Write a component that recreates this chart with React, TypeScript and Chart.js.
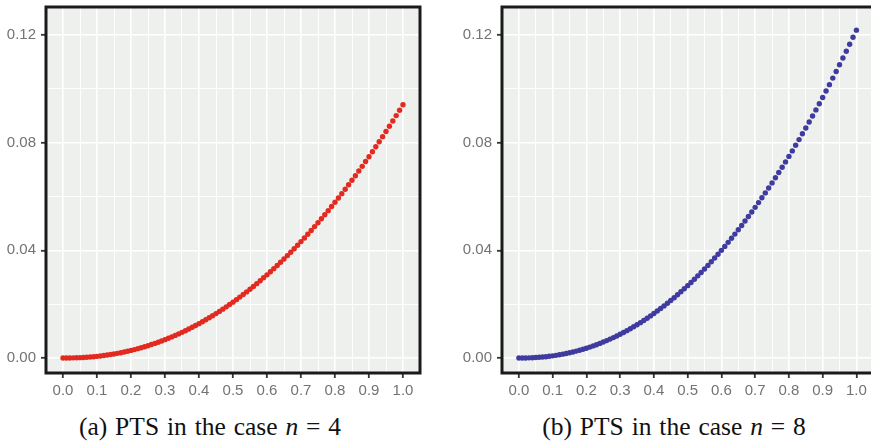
import React, { useEffect, useRef } from "react";
import { Chart, registerables } from "chart.js";

Chart.register(...registerables);

const xValues = [
  0, 0.01, 0.02, 0.03, 0.04, 0.05, 0.06, 0.07, 0.08, 0.09,
  0.1, 0.11, 0.12, 0.13, 0.14, 0.15, 0.16, 0.17, 0.18, 0.19,
  0.2, 0.21, 0.22, 0.23, 0.24, 0.25, 0.26, 0.27, 0.28, 0.29,
  0.3, 0.31, 0.32, 0.33, 0.34, 0.35, 0.36, 0.37, 0.38, 0.39,
  0.4, 0.41, 0.42, 0.43, 0.44, 0.45, 0.46, 0.47, 0.48, 0.49,
  0.5, 0.51, 0.52, 0.53, 0.54, 0.55, 0.56, 0.57, 0.58, 0.59,
  0.6, 0.61, 0.62, 0.63, 0.64, 0.65, 0.66, 0.67, 0.68, 0.69,
  0.7, 0.71, 0.72, 0.73, 0.74, 0.75, 0.76, 0.77, 0.78, 0.79,
  0.8, 0.81, 0.82, 0.83, 0.84, 0.85, 0.86, 0.87, 0.88, 0.89,
  0.9, 0.91, 0.92, 0.93, 0.94, 0.95, 0.96, 0.97, 0.98, 0.99,
  1.0,
];

const ptsN4 = [
  0, 0.0, 0.00002, 0.00005, 0.00008, 0.00014, 0.0002, 0.00029, 0.00038, 0.00049,
  0.00062, 0.00077, 0.00093, 0.0011, 0.00129, 0.0015, 0.00173, 0.00198, 0.00224, 0.00252,
  0.00282, 0.00313, 0.00347, 0.00382, 0.00419, 0.00458, 0.00499, 0.00542, 0.00587, 0.00633,
  0.00682, 0.00732, 0.00785, 0.00839, 0.00896, 0.00954, 0.01015, 0.01077, 0.01142, 0.01208,
  0.01277, 0.01347, 0.0142, 0.01495, 0.01572, 0.0165, 0.01731, 0.01815, 0.019, 0.01987,
  0.02076, 0.02168, 0.02262, 0.02358, 0.02456, 0.02556, 0.02659, 0.02763, 0.0287, 0.02979,
  0.0309, 0.03203, 0.03319, 0.03437, 0.03557, 0.03679, 0.03804, 0.03931, 0.0406, 0.04191,
  0.04324, 0.0446, 0.04598, 0.04738, 0.04881, 0.05026, 0.05173, 0.05323, 0.05475, 0.05629,
  0.05786, 0.05944, 0.06105, 0.06269, 0.06434, 0.06603, 0.06773, 0.06946, 0.07121, 0.07299,
  0.07479, 0.07661, 0.07846, 0.08033, 0.08223, 0.08415, 0.08609, 0.08805, 0.09005, 0.09206,
  0.0941,
];

const ptsN8 = [
  0, 0.00001, 0.00002, 0.00006, 0.00011, 0.00018, 0.00026, 0.00037, 0.00049, 0.00064,
  0.0008, 0.00099, 0.0012, 0.00143, 0.00168, 0.00195, 0.00224, 0.00256, 0.0029, 0.00326,
  0.00365, 0.00406, 0.00449, 0.00495, 0.00543, 0.00593, 0.00646, 0.00702, 0.00759, 0.0082,
  0.00883, 0.00948, 0.01016, 0.01086, 0.0116, 0.01235, 0.01313, 0.01394, 0.01478, 0.01564,
  0.01653, 0.01744, 0.01838, 0.01935, 0.02034, 0.02136, 0.02241, 0.02349, 0.02459, 0.02572,
  0.02688, 0.02806, 0.02928, 0.03052, 0.03179, 0.03309, 0.03441, 0.03577, 0.03715, 0.03856,
  0.04, 0.04146, 0.04296, 0.04449, 0.04604, 0.04762, 0.04923, 0.05088, 0.05255, 0.05424,
  0.05597, 0.05773, 0.05952, 0.06133, 0.06318, 0.06506, 0.06696, 0.0689, 0.07087, 0.07286,
  0.07489, 0.07694, 0.07903, 0.08114, 0.08329, 0.08546, 0.08767, 0.08991, 0.09218, 0.09448,
  0.0968, 0.09917, 0.10155, 0.10398, 0.10643, 0.10892, 0.11143, 0.11397, 0.11656, 0.11916,
  0.1218,
];

const xMajorTicks = [0, 0.1, 0.2, 0.3, 0.4, 0.5, 0.6, 0.7, 0.8, 0.9, 1.0];
const xMinorTicks = [0.05, 0.15, 0.25, 0.35, 0.45, 0.55, 0.65, 0.75, 0.85, 0.95];
const yMajorTicks = [0, 0.04, 0.08, 0.12];
const yMinorTicks = [0.02, 0.06, 0.1];

const X_MIN = -0.05;
const X_MAX = 1.05;
const Y_MIN = -0.00557;
const Y_MAX = 0.1304;

const isMajor = (list: number[], v: number) => list.some((m) => Math.abs(m - v) < 1e-9);

const panelPlugin = {
  id: "panel",
  beforeDraw(chart: any) {
    const { ctx, chartArea } = chart;
    ctx.save();
    ctx.fillStyle = "#eef0ee";
    ctx.fillRect(chartArea.left, chartArea.top, chartArea.right - chartArea.left, chartArea.bottom - chartArea.top);
    ctx.restore();
  },
  afterDraw(chart: any) {
    const { ctx, chartArea } = chart;
    ctx.save();
    ctx.strokeStyle = "#1a1a1a";
    ctx.lineWidth = 3;
    ctx.strokeRect(chartArea.left, chartArea.top, chartArea.right - chartArea.left, chartArea.bottom - chartArea.top);
    ctx.restore();
  },
};

const zeroPadding = (scale: any) => {
  scale.paddingTop = 0;
  scale.paddingBottom = 0;
  scale.paddingLeft = 0;
  scale.paddingRight = 0;
};

type PanelProps = {
  values: number[];
  color: string;
  left: number;
  width: number;
  axisWidth: number;
  padRight: number;
};

function Panel({ values, color, left, width, axisWidth, padRight }: PanelProps) {
  const ref = useRef<HTMLCanvasElement | null>(null);
  useEffect(() => {
    if (!ref.current) return;
    const tickFont = { family: "'Liberation Sans', Arial, sans-serif", size: 15 };
    const chart = new Chart(ref.current, {
      type: "scatter",
      data: {
        datasets: [
          {
            data: xValues.map((x, i) => ({ x, y: values[i] })),
            backgroundColor: color,
            borderWidth: 0,
            pointRadius: 2.7,
            pointHoverRadius: 2.7,
          },
        ],
      },
      options: {
        animation: false,
        responsive: false,
        devicePixelRatio: 1,
        layout: { padding: { top: 7, right: padRight, left: 0, bottom: 0 } },
        plugins: { legend: { display: false }, tooltip: { enabled: false } },
        events: [],
        scales: {
          x: {
            type: "linear",
            min: X_MIN,
            max: X_MAX,
            afterBuildTicks: (scale: any) => {
              scale.ticks = [...xMajorTicks, ...xMinorTicks].sort((a, b) => a - b).map((value) => ({ value }));
            },
            afterFit: (scale: any) => {
              scale.height = 27;
              zeroPadding(scale);
            },
            border: { display: false },
            grid: {
              color: "#ffffff",
              lineWidth: (ctx: any) => (isMajor(xMajorTicks, ctx.tick.value) ? 1.6 : 0.9),
              tickColor: (ctx: any) => (isMajor(xMajorTicks, ctx.tick.value) ? "#333333" : "rgba(0,0,0,0)"),
              tickWidth: 1.8,
              tickLength: 5,
              drawTicks: true,
            },
            ticks: {
              autoSkip: false,
              maxRotation: 0,
              padding: 4,
              color: "#737373",
              font: tickFont,
              callback: (v: any) => (isMajor(xMajorTicks, Number(v)) ? Number(v).toFixed(1) : ""),
            },
          },
          y: {
            type: "linear",
            min: Y_MIN,
            max: Y_MAX,
            afterBuildTicks: (scale: any) => {
              scale.ticks = [...yMajorTicks, ...yMinorTicks].sort((a, b) => a - b).map((value) => ({ value }));
            },
            afterFit: (scale: any) => {
              scale.width = axisWidth;
              zeroPadding(scale);
            },
            border: { display: false },
            grid: {
              color: "#ffffff",
              lineWidth: (ctx: any) => (isMajor(yMajorTicks, ctx.tick.value) ? 1.6 : 0.9),
              tickColor: (ctx: any) => (isMajor(yMajorTicks, ctx.tick.value) ? "#333333" : "rgba(0,0,0,0)"),
              tickWidth: 1.8,
              tickLength: 5,
              drawTicks: true,
            },
            ticks: {
              autoSkip: false,
              padding: 5,
              color: "#737373",
              font: tickFont,
              callback: (v: any) => (isMajor(yMajorTicks, Number(v)) ? Number(v).toFixed(2) : ""),
            },
          },
        },
      },
      plugins: [panelPlugin],
    } as any);
    return () => chart.destroy();
  }, [values, color, axisWidth, padRight]);
  return (
    <canvas
      ref={ref}
      width={width}
      height={400}
      style={{ position: "absolute", left, top: 0, width, height: 400 }}
    />
  );
}

function Caption({ center, label, n }: { center: number; label: string; n: string }) {
  return (
    <div
      style={{
        position: "absolute",
        left: center,
        top: 413,
        transform: "translateX(-50%)",
        whiteSpace: "nowrap",
        fontFamily: "'Liberation Serif', 'Times New Roman', serif",
        fontSize: 25.5,
        wordSpacing: 1.5,
        lineHeight: "28px",
        color: "#111",
      }}
    >
      {label} PTS in the case <i>n</i> = {n}
    </div>
  );
}

export default function App() {
  return (
    <div
      style={{
        position: "fixed",
        left: 0,
        top: 0,
        width: 871,
        height: 445,
        overflow: "hidden",
        background: "#ffffff",
      }}
    >
      <Panel values={ptsN4} color="#e32a20" left={0} width={436} axisWidth={46} padRight={16} />
      <Panel values={ptsN8} color="#3f3b9f" left={436} width={440} axisWidth={66} padRight={0} />
      <Caption center={210} label="(a)" n="4" />
      <Caption center={674} label="(b)" n="8" />
    </div>
  );
}
